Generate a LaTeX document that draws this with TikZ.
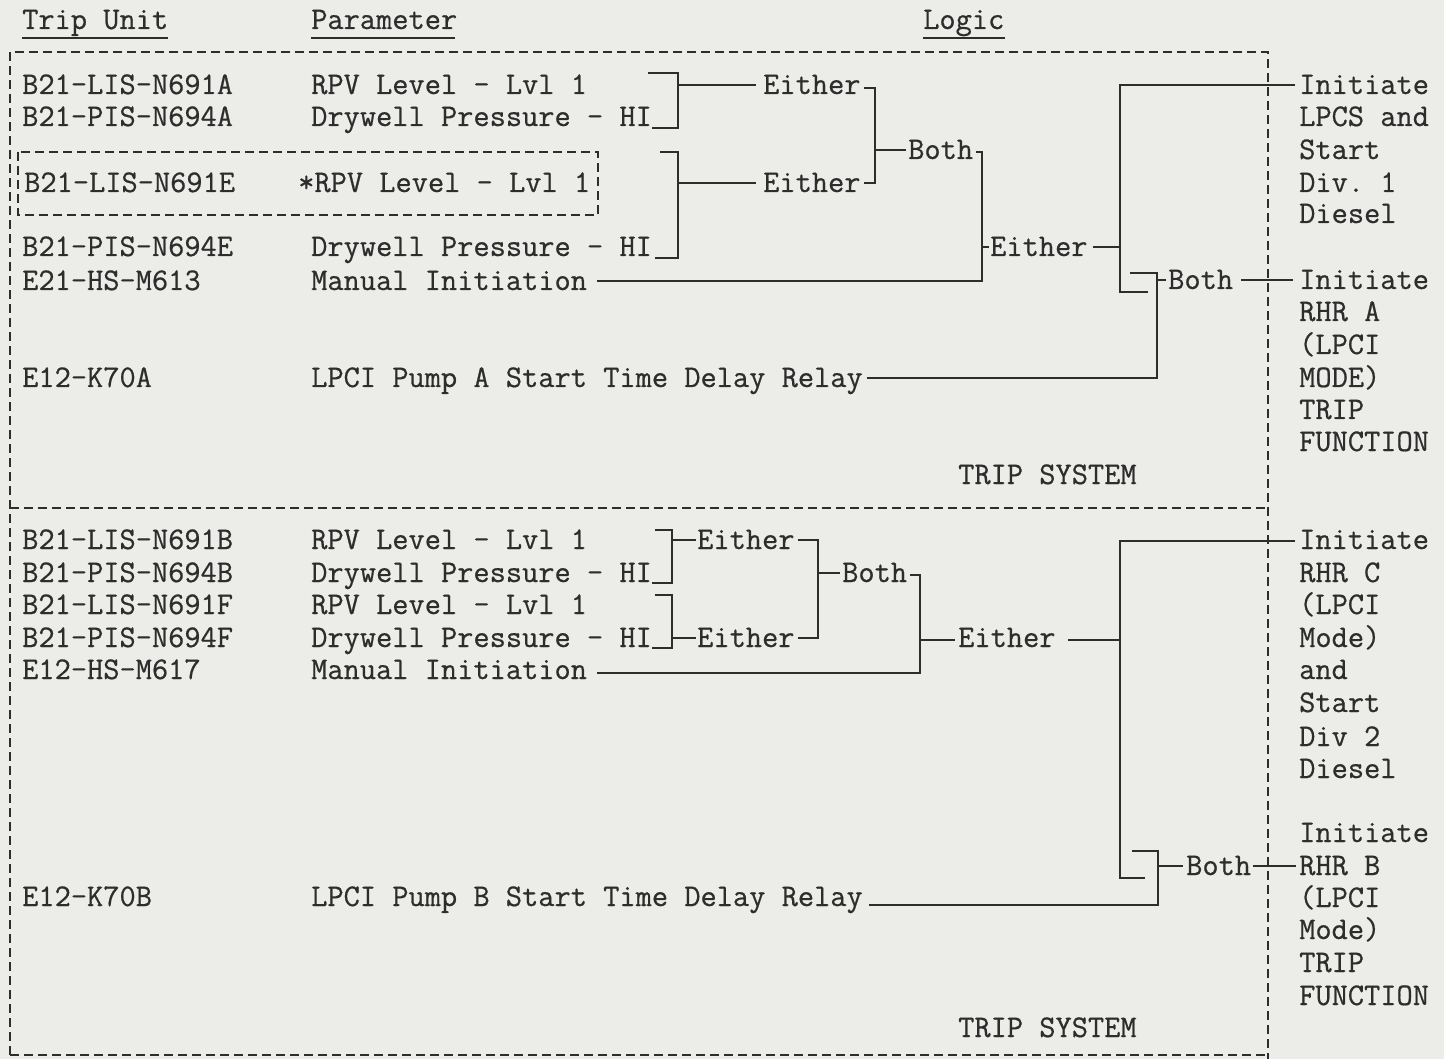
\documentclass[tikz,border=0pt]{standalone}
\usepackage{fontspec}
\setmonofont{Latin Modern Mono}[FakeBold=0.6]
\definecolor{bg}{RGB}{236,236,233}
\definecolor{ink}{RGB}{45,45,45}
\begin{document}
\begin{tikzpicture}[x=1pt,y=-1pt,
  txt/.style={anchor=base west,inner sep=0pt,font=\ttfamily\bfseries\fontsize{31.5}{32}\selectfont,text=ink},
  ln/.style={draw=ink,line width=2.6pt},
  dsh/.style={draw=ink,line width=2.2pt,dash pattern=on 9pt off 5pt}]
\fill[bg] (0,0) rectangle (1444,1059);
\useasboundingbox (0,0) rectangle (1444,1059);
% headers
\node[txt] (hTrip) at (22,29) {Trip Unit};
\node[txt] (hPar) at (311,29) {Parameter};
\node[txt] (hLog) at (923,29) {Logic};
\draw[ln] (22,38) -- (168,38);
\draw[ln] (311,38) -- (455,38);
\draw[ln] (923,38) -- (1005,38);
% dashed frames
\draw[dsh] (10,1055) -- (10,52) -- (1268,52) -- (1268,1059);
\draw[dsh] (10,508) -- (1268,508);
\draw[dsh] (10,1055) -- (1268,1055);
\draw[dsh] (18,152) rectangle (598,215);
% top rows
\node[txt] (u1) at (22,94) {B21-LIS-N691A};
\node[txt] (p1) at (311,94) {RPV Level - Lvl 1};
\node[txt] (u2) at (22,126) {B21-PIS-N694A};
\node[txt] (p2) at (311,126) {Drywell Pressure - HI};
\node[txt] (u3) at (24,192) {B21-LIS-N691E};
\node[txt] (p3) at (298,192) {*RPV Level - Lvl 1};
\node[txt] (u4) at (22,256) {B21-PIS-N694E};
\node[txt] (p4) at (311,256) {Drywell Pressure - HI};
\node[txt] (u5) at (22,290) {E21-HS-M613};
\node[txt] (man1) at (311,290) {Manual Initiation};
\node[txt] (u6) at (22,387) {E12-K70A};
\node[txt] (relA) at (311,387) {LPCI Pump A Start Time Delay Relay};
\node[txt] (ts1) at (958,484) {TRIP SYSTEM};
% top logic
\node[txt] (eA) at (763,94) {Either};
\node[txt] (eE) at (763,192) {Either};
\node[txt] (bT) at (908,159) {Both};
\node[txt] (eT) at (990,256) {Either};
\node[txt] (bA) at (1168,289) {Both};
% top outputs
\node[txt] (initA) at (1299,94) {Initiate};
\node[txt] at (1299,126) {LPCS and};
\node[txt] at (1299,159) {Start};
\node[txt] at (1299,192) {Div. 1};
\node[txt] at (1299,223) {Diesel};
\node[txt] (initB) at (1299,289) {Initiate};
\node[txt] at (1299,321) {RHR A};
\node[txt] at (1299,354) {(LPCI};
\node[txt] at (1299,387) {MODE)};
\node[txt] at (1299,419) {TRIP};
\node[txt] at (1299,451) {FUNCTION};
% top connectors
\draw[ln] (648,73) -- (678,73) -- (678,128) -- (652,128);
\draw[ln] (678,85) -- ([xshift=-7pt,yshift=9pt]eA.base west);
\draw[ln] (660,152) -- (678,152) -- (678,258) -- (655,258);
\draw[ln] (678,183) -- ([xshift=-7pt,yshift=9pt]eE.base west);
\draw[ln] ([xshift=3pt,yshift=6pt]eA.base east) -| (875,183) -- ([xshift=3pt,yshift=9pt]eE.base east);
\draw[ln] (875,150) -- ([xshift=-2pt,yshift=9pt]bT.base west);
\draw[ln] ([xshift=3pt,yshift=7pt]bT.base east) -| (982,281) -- ([xshift=10pt,yshift=9pt]man1.base east);
\draw[ln] (982,247) -- ([xshift=-1pt,yshift=9pt]eT.base west);
\draw[ln] ([xshift=5pt,yshift=9pt]eT.base east) -- (1120,247);
\draw[ln] ([xshift=-4pt,yshift=9pt]initA.base west) -| (1120,292) -- (1148,292);
\draw[ln] (1130,273) -- (1157,273) -- (1157,378) -- ([xshift=4pt,yshift=9pt]relA.base east);
\draw[ln] (1157,280) -- ([xshift=-2pt,yshift=9pt]bA.base west);
\draw[ln] ([xshift=8pt,yshift=9pt]bA.base east) -- ([xshift=-6pt,yshift=9pt]initB.base west);
% bottom rows
\node[txt] (v1) at (22,549) {B21-LIS-N691B};
\node[txt] (q1) at (311,549) {RPV Level - Lvl 1};
\node[txt] (v2) at (22,582) {B21-PIS-N694B};
\node[txt] (q2) at (311,582) {Drywell Pressure - HI};
\node[txt] (v3) at (22,614) {B21-LIS-N691F};
\node[txt] (q3) at (311,614) {RPV Level - Lvl 1};
\node[txt] (v4) at (22,647) {B21-PIS-N694F};
\node[txt] (q4) at (311,647) {Drywell Pressure - HI};
\node[txt] (v5) at (22,679) {E12-HS-M617};
\node[txt] (man2) at (311,679) {Manual Initiation};
\node[txt] (v6) at (22,906) {E12-K70B};
\node[txt] (relB) at (311,906) {LPCI Pump B Start Time Delay Relay};
\node[txt] (ts2) at (958,1037) {TRIP SYSTEM};
% bottom logic
\node[txt] (eB) at (697,549) {Either};
\node[txt] (eF) at (697,647) {Either};
\node[txt] (bB) at (842,582) {Both};
\node[txt] (eBt) at (958,647) {Either};
\node[txt] (bBB) at (1186,875) {Both};
% bottom outputs
\node[txt] (initC) at (1299,549) {Initiate};
\node[txt] at (1299,582) {RHR C};
\node[txt] at (1299,614) {(LPCI};
\node[txt] at (1299,647) {Mode)};
\node[txt] at (1299,679) {and};
\node[txt] at (1299,712) {Start};
\node[txt] at (1299,746) {Div 2};
\node[txt] at (1299,778) {Diesel};
\node[txt] at (1299,842) {Initiate};
\node[txt] (rhrB) at (1299,875) {RHR B};
\node[txt] at (1299,907) {(LPCI};
\node[txt] at (1299,939) {Mode)};
\node[txt] at (1299,972) {TRIP};
\node[txt] at (1299,1005) {FUNCTION};
% bottom connectors
\draw[ln] (655,530) -- (672,530) -- (672,583) -- (652,583);
\draw[ln] (672,540) -- ([xshift=-1pt,yshift=9pt]eB.base west);
\draw[ln] (655,595) -- (672,595) -- (672,648) -- (652,648);
\draw[ln] (672,638) -- ([xshift=-1pt,yshift=9pt]eF.base west);
\draw[ln] ([xshift=3pt,yshift=9pt]eB.base east) -| (818,638) -- ([xshift=3pt,yshift=9pt]eF.base east);
\draw[ln] (818,573) -- ([xshift=-2pt,yshift=9pt]bB.base west);
\draw[ln] ([xshift=3pt,yshift=7pt]bB.base east) -| (920,673) -- ([xshift=10pt,yshift=6pt]man2.base east);
\draw[ln] (920,640) -- ([xshift=-3pt,yshift=7pt]eBt.base west);
\draw[ln] ([xshift=12pt,yshift=7pt]eBt.base east) -- (1120,640);
\draw[ln] ([xshift=-4pt,yshift=8pt]initC.base west) -| (1120,878) -- (1145,878);
\draw[ln] (1132,851) -- (1158,851) -- (1158,905) -- ([xshift=6pt,yshift=1pt]relB.base east);
\draw[ln] (1158,866) -- ([xshift=-3pt,yshift=9pt]bBB.base west);
\draw[ln] ([xshift=2pt,yshift=9pt]bBB.base east) -- ([xshift=-3pt,yshift=9pt]rhrB.base west);
\end{tikzpicture}
\end{document}
